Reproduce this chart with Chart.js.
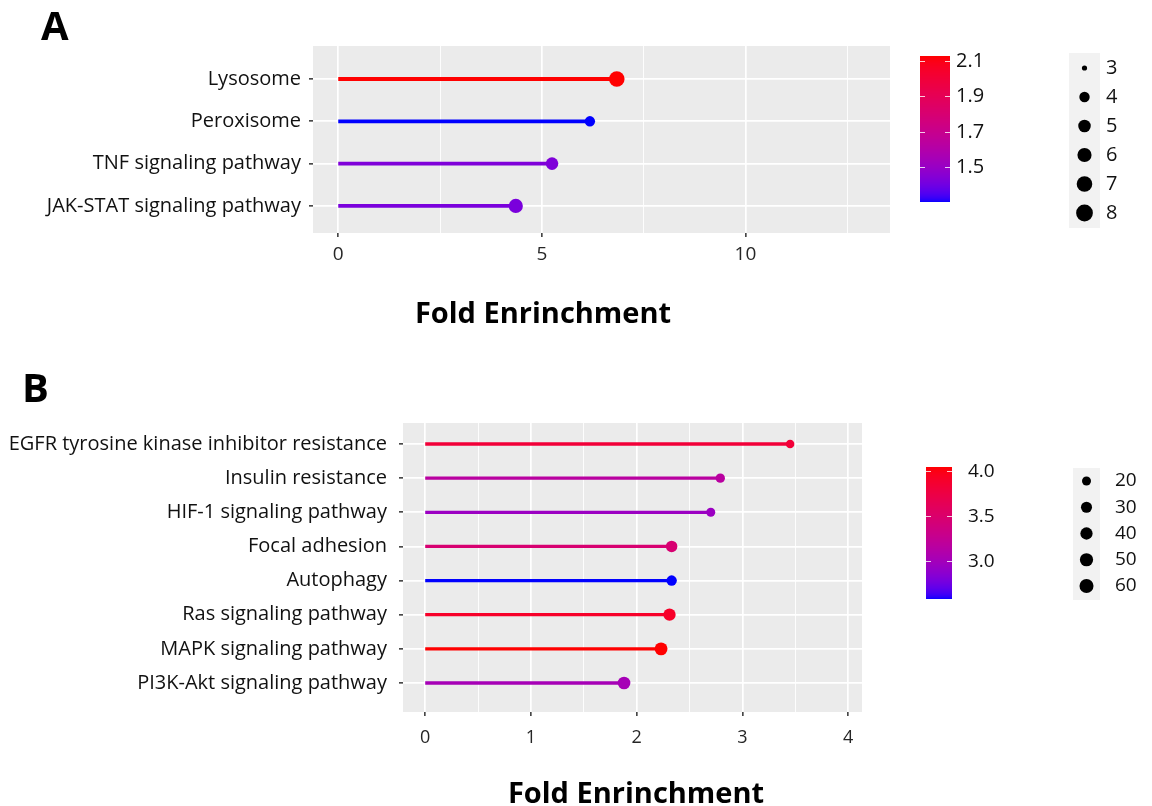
<!DOCTYPE html>
<html>
<head>
<meta charset="utf-8">
<script src="https://cdn.jsdelivr.net/npm/chart.js@4.4.1/dist/chart.umd.min.js"></script>
<style>
  html, body { margin: 0; padding: 0; background: #fff; }
  body { width: 1152px; height: 806px; position: relative; overflow: hidden; }
  canvas { position: absolute; left: 0; }
  .tag { position: absolute; font: bold 40px "Open Sans", sans-serif; line-height: 1; color: #000; }
  .xtitle { position: absolute; font: bold 29px "Open Sans", sans-serif; line-height: 1; color: #000;
            width: 400px; text-align: center; }
</style>
</head>
<body>
<canvas id="chartA" style="top:0" width="1152" height="340"></canvas>
<canvas id="chartB" style="top:340px" width="1152" height="466"></canvas>
<div class="tag" style="left:41px; top:5px;">A</div>
<div class="tag" style="left:22px; top:367px;">B</div>
<div class="xtitle" style="left:343px; top:297px;">Fold Enrinchment</div>
<div class="xtitle" style="left:436px; top:777px;">Fold Enrinchment</div>
<script>
// panel A - KEGG pathways
const pathwaysA = ['Lysosome', 'Peroxisome', 'TNF signaling pathway', 'JAK-STAT signaling pathway'];
const foldA = [6.84, 6.18, 5.25, 4.36];
const scoreA = [2.13, 1.30, 1.43, 1.42];
const countA = [7, 4, 5, 6];
const xTicksA = [0, 5, 10];
const xMinorA = [2.5, 7.5, 12.5];
const scoreTicksA = [1.5, 1.7, 1.9, 2.1];
const countTicksA = [3, 4, 5, 6, 7, 8];
const countLimitsA = [3, 8];

// panel B
const pathwaysB = ['EGFR tyrosine kinase inhibitor resistance', 'Insulin resistance', 'HIF-1 signaling pathway',
    'Focal adhesion', 'Autophagy', 'Ras signaling pathway', 'MAPK signaling pathway', 'PI3K-Akt signaling pathway'];
const foldB = [3.45, 2.79, 2.70, 2.33, 2.33, 2.31, 2.23, 1.88];
const scoreB = [3.82, 3.16, 2.95, 3.46, 2.58, 3.90, 4.04, 3.02];
const countB = [19, 21, 20, 33, 26, 40, 46, 44];
const xTicksB = [0, 1, 2, 3, 4];
const xMinorB = [0.5, 1.5, 2.5, 3.5];
const scoreTicksB = [3.0, 3.5, 4.0];
const countTicksB = [20, 30, 40, 50, 60];
const countLimitsB = [18, 62];

// blue -> red gradient, interpolated in Lab like ggplot
const toLin = c => { c /= 255; return c <= 0.04045 ? c / 12.92 : Math.pow((c + 0.055) / 1.055, 2.4); };
const fromLin = c => {
    const v = c <= 0.0031308 ? 12.92 * c : 1.055 * Math.pow(Math.max(c, 0), 1 / 2.4) - 0.055;
    return Math.round(Math.min(1, Math.max(0, v)) * 255);
};
function rgbToLab(rgb) {
    const [r, g, b] = rgb.map(toLin);
    const x = (0.4124 * r + 0.3576 * g + 0.1805 * b) / 0.95047;
    const y = 0.2126 * r + 0.7152 * g + 0.0722 * b;
    const z = (0.0193 * r + 0.1192 * g + 0.9505 * b) / 1.08883;
    const f = t => t > 0.008856 ? Math.cbrt(t) : 7.787 * t + 16 / 116;
    return [116 * f(y) - 16, 500 * (f(x) - f(y)), 200 * (f(y) - f(z))];
}
function labToRgb([L, a, bb]) {
    const fy = (L + 16) / 116, fx = fy + a / 500, fz = fy - bb / 200;
    const inv = t => t > 0.206893 ? t * t * t : (t - 16 / 116) / 7.787;
    const x = inv(fx) * 0.95047, y = inv(fy), z = inv(fz) * 1.08883;
    const r = 3.2406 * x - 1.5372 * y - 0.4986 * z;
    const g = -0.9689 * x + 1.8758 * y + 0.0415 * z;
    const b = 0.0557 * x - 0.2040 * y + 1.0570 * z;
    return `rgb(${fromLin(r)},${fromLin(g)},${fromLin(b)})`;
}
const LOW = rgbToLab([0, 0, 255]), HIGH = rgbToLab([255, 0, 0]);
const gradient = (v, lo, hi) => {
    const t = Math.min(1, Math.max(0, (v - lo) / (hi - lo)));
    return labToRgb(LOW.map((c, i) => c + (HIGH[i] - c) * t));
};

const FONT = '"Open Sans", sans-serif';

// grey panel + colourbar + size legend
const ggLegends = {
    id: 'ggLegends',
    beforeDraw(chart) {
        const { ctx, chartArea: a } = chart;
        ctx.save();
        ctx.fillStyle = '#EBEBEB';
        ctx.fillRect(a.left, a.top, a.width, a.height);
        ctx.restore();
    },
    afterDraw(chart, args, o) {
        const ctx = chart.ctx;
        const cb = o.colorbar, sl = o.sizeLegend;
        ctx.save();
        for (let i = 0; i < cb.h; i++) {
            ctx.fillStyle = gradient(cb.hi - (cb.hi - cb.lo) * (i + 0.5) / cb.h, cb.lo, cb.hi);
            ctx.fillRect(cb.x, cb.y + i, cb.w, 1);
        }
        ctx.font = `${o.fontSize}px ${FONT}`;
        ctx.textBaseline = 'middle';
        ctx.textAlign = 'left';
        cb.ticks.forEach(t => {
            const y = Math.round(cb.y + (cb.hi - t) / (cb.hi - cb.lo) * cb.h) + 0.5;
            ctx.strokeStyle = 'rgba(255,255,255,0.8)';
            ctx.lineWidth = 1;
            ctx.beginPath();
            ctx.moveTo(cb.x, y); ctx.lineTo(cb.x + 5, y);
            ctx.moveTo(cb.x + cb.w - 5, y); ctx.lineTo(cb.x + cb.w, y);
            ctx.stroke();
            ctx.fillStyle = '#111';
            ctx.fillText(t.toFixed(1), cb.x + cb.w + cb.gap, y);
        });

        ctx.fillStyle = '#F2F2F2';
        ctx.fillRect(sl.x, sl.y, sl.w, sl.h);
        sl.values.forEach((v, i) => {
            const y = sl.first + i * sl.step;
            ctx.fillStyle = '#000';
            ctx.beginPath();
            ctx.arc(sl.x + sl.w / 2, y, sl.radius(v), 0, Math.PI * 2);
            ctx.fill();
            ctx.fillStyle = '#111';
            ctx.fillText(String(v), sl.labelX, y);
        });
        ctx.restore();
    }
};

function drawPanel(id, p) {
    const lo = Math.min(...p.score), hi = Math.max(...p.score);
    // ggplot-like size scale: radius grows with the square root of the count
    const radius = v => {
        const t = Math.min(1, Math.max(0, (v - p.countLimits[0]) / (p.countLimits[1] - p.countLimits[0])));
        return p.rMin + (p.rMax - p.rMin) * Math.sqrt(t);
    };

    const datasets = p.pathways.map((name, i) => {
        const c = gradient(p.score[i], lo, hi);
        return {
            label: name,
            data: [{ x: 0, y: i }, { x: p.fold[i], y: i }],
            showLine: true,
            borderColor: c,
            backgroundColor: c,
            borderWidth: p.lineWidth,
            pointRadius: [0, radius(p.count[i])],
            pointBorderWidth: 0,
        };
    });
    const isMajor = v => p.xTicks.includes(v);

    new Chart(document.getElementById(id), {
        type: 'scatter',
        data: { datasets: datasets },
        plugins: [ggLegends],
        options: {
            responsive: false,
            animation: false,
            events: [],
            devicePixelRatio: 1,
            layout: { padding: { left: 0, top: p.plot.top, right: p.width - p.plot.right, bottom: 0 } },
            plugins: {
                legend: { display: false },
                tooltip: { enabled: false },
                ggLegends: {
                    fontSize: p.legendFont,
                    colorbar: Object.assign({ lo: lo, hi: hi, ticks: p.scoreTicks }, p.colorbar),
                    sizeLegend: Object.assign({ values: p.countTicks, radius: radius }, p.sizeLegend),
                },
            },
            scales: {
                x: {
                    type: 'linear',
                    min: p.xMin,
                    max: p.xMax,
                    afterBuildTicks: s => {
                        s.ticks = [...p.xTicks, ...p.xMinor].sort((a, b) => a - b).map(v => ({ value: v }));
                    },
                    afterFit: s => { s.height = p.height - p.plot.bottom; },
                    border: { display: false },
                    grid: {
                        color: '#FFFFFF',
                        lineWidth: c => isMajor(c.tick.value) ? 1.7 : 0.9,
                        tickColor: c => isMajor(c.tick.value) ? '#333333' : 'rgba(0,0,0,0)',
                        tickWidth: 1.5,
                        tickLength: 4,
                    },
                    ticks: {
                        autoSkip: false,
                        maxRotation: 0,
                        padding: p.xTickPad,
                        color: '#262626',
                        font: { family: FONT, size: p.xTickFont },
                        callback: v => isMajor(v) ? String(v) : '',
                    },
                },
                y: {
                    type: 'linear',
                    reverse: true,
                    min: p.yMin,
                    max: p.yMax,
                    afterBuildTicks: s => { s.ticks = p.pathways.map((_, i) => ({ value: i })); },
                    afterFit: s => { s.width = p.plot.left; },
                    border: { display: false },
                    grid: {
                        color: '#FFFFFF',
                        lineWidth: 1.7,
                        tickColor: '#333333',
                        tickWidth: 1.5,
                        tickLength: 4,
                    },
                    ticks: {
                        autoSkip: false,
                        padding: p.yTickPad,
                        color: '#111',
                        font: { family: FONT, size: p.yTickFont },
                        callback: v => p.pathways[v],
                    },
                },
            },
        },
    });
}

drawPanel('chartA', {
    pathways: pathwaysA, fold: foldA, score: scoreA, count: countA,
    xTicks: xTicksA, xMinor: xMinorA, scoreTicks: scoreTicksA, countTicks: countTicksA, countLimits: countLimitsA,
    width: 1152, height: 340, plot: { left: 313, right: 890, top: 46, bottom: 233 },
    xMin: -0.62, xMax: 13.55, yMin: -0.78, yMax: 3.64,
    lineWidth: 3.8, rMin: 2.6, rMax: 8.4,
    xTickFont: 19, yTickFont: 20, xTickPad: 6, yTickPad: 8, legendFont: 20,
    colorbar: { x: 920, y: 56, w: 30, h: 146, gap: 6 },
    sizeLegend: { x: 1069, y: 53, w: 31, h: 175, first: 68, step: 29, labelX: 1106 },
});

drawPanel('chartB', {
    pathways: pathwaysB, fold: foldB, score: scoreB, count: countB,
    xTicks: xTicksB, xMinor: xMinorB, scoreTicks: scoreTicksB, countTicks: countTicksB, countLimits: countLimitsB,
    width: 1152, height: 466, plot: { left: 403, right: 862, top: 83, bottom: 372 },
    xMin: -0.21, xMax: 4.13, yMin: -0.615, yMax: 7.85,
    lineWidth: 3.3, rMin: 3.8, rMax: 7.1,
    xTickFont: 18, yTickFont: 20, xTickPad: 11, yTickPad: 12, legendFont: 19,
    colorbar: { x: 926, y: 127, w: 26, h: 132, gap: 16 },
    sizeLegend: { x: 1073, y: 128, w: 27, h: 132, first: 141, step: 26.25, labelX: 1115 },
});
</script>
</body>
</html>
